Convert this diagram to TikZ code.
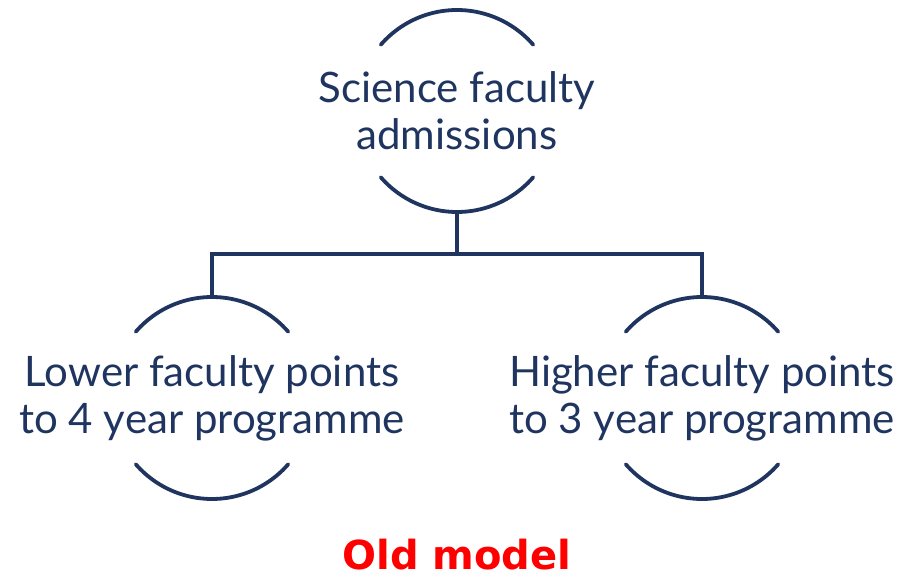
\documentclass[tikz,border=0pt]{standalone}
\usepackage{fontspec}
\setmainfont{Lato}
\newfontfamily\oldfont{DejaVu Sans}
\usetikzlibrary{calc}
\definecolor{navy}{RGB}{31,53,96}
\definecolor{oldred}{RGB}{255,0,0}
\tikzset{
  topic/.style={align=center, text=navy, font=\fontsize{42}{47}\selectfont, inner sep=0pt},
  ring/.style={draw=navy, line width=3.8pt, line cap=round},
  link/.style={draw=navy, line width=3.8pt}
}
\begin{document}
\begin{tikzpicture}[x=1pt,y=1pt]
  \useasboundingbox (0,0) rectangle (905,-580);
  \node[topic] (sci) at (457,-111) {Science faculty\\admissions};
  \node[topic] (lower) at (212,-398) {Lower faculty points\\to 4 year programme};
  \node[topic] (higher) at (702,-398) {Higher faculty points\\to 3 year programme};
  % half rings round each topic
  \foreach \n in {sci,lower,higher} {
    \draw[ring] ($(\n.center)+(139:101)$) arc (139:41:101);
    \draw[ring] ($(\n.center)+(221:101)$) arc (221:319:101);
    \coordinate (\n-top) at ($(\n.center)+(0,101)$);
    \coordinate (\n-bot) at ($(\n.center)+(0,-101)$);
  }
  \coordinate (bus) at (457,-254);
  \draw[link] (sci-bot) -- (bus);
  \draw[link] (lower-top) |- (bus) -| (higher-top);
  \node[font=\oldfont\bfseries\fontsize{40}{44}\selectfont, text=oldred, inner sep=0pt] (old) at (457,-555) {Old model};
\end{tikzpicture}
\end{document}
